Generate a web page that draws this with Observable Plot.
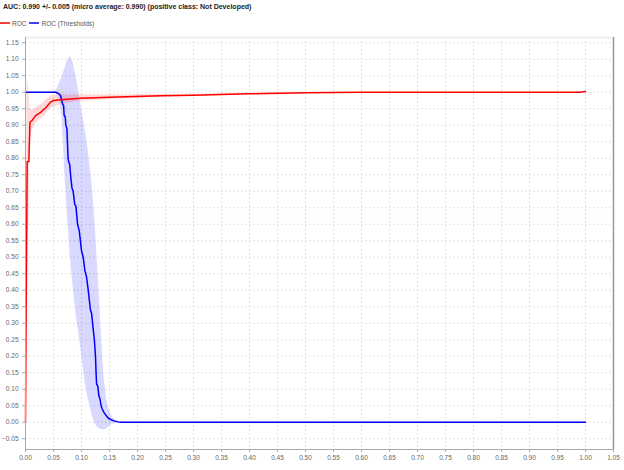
<!DOCTYPE html>
<html>
<head>
<meta charset="utf-8">
<script src="https://cdn.jsdelivr.net/npm/d3@7"></script>
<script src="https://cdn.jsdelivr.net/npm/@observablehq/plot@0.6"></script>
<style>
  html, body { margin: 0; padding: 0; background: #fff; }
  body { width: 624px; height: 470px; overflow: hidden; font-family: "Liberation Sans", Arial, sans-serif; }
  #title { height: 14px; line-height: 13px; padding-left: 3px; font-size: 7px; font-weight: bold; color: #222; white-space: nowrap; }
  #legend { height: 18px; display: flex; align-items: center; font-size: 6.5px; color: #555; white-space: nowrap; }
  #legend .item { display: flex; align-items: center; margin-right: 3px; }
  #legend svg { margin-right: 2px; }
  #chart svg { display: block; }
</style>
</head>
<body>
<div id="title"></div>
<div id="legend"></div>
<div id="chart"></div>
<script>
// ---- Text ----
const titleText = "AUC: 0.990 +/- 0.005 (micro average: 0.990) (positive class: Not Developed)";
const seriesNames = ["ROC", "ROC (Thresholds)"];
const seriesColors = ["#ff0000", "#0000ff"];

// ---- Axes ----
const xDomain = [0, 1.05];
const yDomain = [-0.0827, 1.1658];
const xTicks = [0,0.05,0.1,0.15,0.2,0.25,0.3,0.35,0.4,0.45,0.5,0.55,0.6,0.65,0.7,0.75,0.8,0.85,0.9,0.95,1.0,1.05];
const yTicks = [-0.05,0,0.05,0.1,0.15,0.2,0.25,0.3,0.35,0.4,0.45,0.5,0.55,0.6,0.65,0.7,0.75,0.8,0.85,0.9,0.95,1.0,1.05,1.1,1.15];

// ---- ROC (red) ----
const rocX  = [0, 0.001, 0.003, 0.006, 0.008, 0.012, 0.018, 0.027, 0.036, 0.045, 0.05, 0.0625, 0.098, 0.15, 0.241, 0.3, 0.4, 0.5, 0.6, 0.99, 1.0];
const rocY  = [0, 0.3, 0.79, 0.79, 0.909, 0.915, 0.929, 0.939, 0.953, 0.970, 0.975, 0.977, 0.982, 0.985, 0.989, 0.991, 0.995, 0.998, 1.0, 1.0, 1.002];
const rocLo = [0, 0.15, 0.55, 0.6, 0.86, 0.885, 0.905, 0.918, 0.932, 0.95, 0.955, 0.962, 0.972, 0.978, 0.985, 0.988, 0.993, 0.997, 1.0, 1.0, 1.0];
const rocHi = [0, 0.5, 1.05, 1.0, 0.95, 0.945, 0.952, 0.962, 0.975, 0.988, 0.99, 0.992, 0.992, 0.992, 0.993, 0.994, 0.997, 0.999, 1.0, 1.0, 1.004];

// ---- ROC (Thresholds) (blue) ----
const thrX = [0, 0.054, 0.06, 0.0625, 0.065, 0.066, 0.068, 0.069, 0.071, 0.072, 0.074, 0.076, 0.077, 0.079, 0.081, 0.083, 0.085, 0.088, 0.09, 0.093, 0.096, 0.1, 0.103, 0.106, 0.109, 0.112, 0.114, 0.116, 0.118, 0.121, 0.123, 0.125, 0.126, 0.127, 0.129, 0.131, 0.133, 0.135, 0.137, 0.14, 0.144, 0.148, 0.152, 0.158, 0.165, 0.17, 1.0];
const thrY = [1, 1, 0.995, 0.99, 0.975, 0.965, 0.96, 0.93, 0.925, 0.90, 0.89, 0.80, 0.79, 0.78, 0.74, 0.71, 0.70, 0.66, 0.655, 0.60, 0.58, 0.52, 0.50, 0.46, 0.44, 0.40, 0.37, 0.34, 0.33, 0.28, 0.25, 0.20, 0.15, 0.115, 0.11, 0.08, 0.07, 0.05, 0.04, 0.03, 0.02, 0.012, 0.008, 0.004, 0.001, 0, 0];

const bandX  = [0, 0.05, 0.055, 0.06, 0.065, 0.07, 0.075, 0.08, 0.085, 0.09, 0.095, 0.1, 0.105, 0.11, 0.115, 0.12, 0.125, 0.13, 0.135, 0.14, 0.145, 0.15, 0.155, 0.16, 0.17, 1.0];
const bandHi = [1.0, 1.0, 1.005, 1.025, 1.045, 1.07, 1.095, 1.108, 1.09, 1.05, 1.0, 0.95, 0.9, 0.85, 0.78, 0.70, 0.58, 0.44, 0.28, 0.14, 0.07, 0.035, 0.015, 0.006, 0.001, 0.001];
const bandLo = [1.0, 1.0, 0.995, 0.985, 0.93, 0.76, 0.62, 0.50, 0.41, 0.33, 0.27, 0.21, 0.14, 0.085, 0.05, 0.015, -0.008, -0.018, -0.022, -0.024, -0.02, -0.012, -0.007, -0.003, -0.001, -0.001];

// ---- Build tables ----
const roc = rocX.map((x, i) => ({x, y: rocY[i], lo: rocLo[i], hi: rocHi[i]}));
const thr = thrX.map((x, i) => ({x, y: thrY[i]}));
const band = bandX.map((x, i) => ({x, lo: bandLo[i], hi: bandHi[i]}));

document.getElementById("title").textContent = titleText;
const legend = document.getElementById("legend");
seriesNames.forEach((name, i) => {
  const item = document.createElement("span");
  item.className = "item";
  item.innerHTML = `<svg width="10" height="4"><line x1="0" x2="10" y1="2" y2="2" stroke="${seriesColors[i]}" stroke-width="1.5"/></svg><span>${name}</span>`;
  legend.appendChild(item);
});

const fmt = d3.format(".2f");

const chart = Plot.plot({
  width: 624,
  height: 438,
  marginLeft: 25,
  marginRight: 11,
  marginTop: 5,
  marginBottom: 21,
  style: { fontFamily: "Liberation Sans, Arial, sans-serif", fontSize: "6.5px", color: "#666", background: "#fff" },
  x: { domain: xDomain, range: [25, 613] },
  y: { domain: yDomain },
  marks: [
    Plot.gridX(xTicks, { stroke: "#e2e2e2", strokeOpacity: 1, strokeDasharray: "2,2" }),
    Plot.gridY(yTicks, { stroke: "#e2e2e2", strokeOpacity: 1, strokeDasharray: "2,2" }),
    Plot.ruleY([yDomain[1]], { stroke: "#eeeeee", strokeWidth: 2 }),
    Plot.areaY(band, { x: "x", y1: "lo", y2: "hi", fill: seriesColors[1], fillOpacity: 0.15 }),
    Plot.areaY(roc, { x: "x", y1: "lo", y2: "hi", fill: seriesColors[0], fillOpacity: 0.15 }),
    Plot.line(thr, { x: "x", y: "y", stroke: seriesColors[1], strokeWidth: 1.5 }),
    Plot.line(roc, { x: "x", y: "y", stroke: seriesColors[0], strokeWidth: 1.5 }),
    Plot.ruleX([xDomain[0]], { stroke: "#aaaaaa", strokeWidth: 1 }),
    Plot.ruleY([yDomain[0]], { stroke: "#aaaaaa", strokeWidth: 1 }),
    Plot.ruleX([xDomain[1]], { stroke: "#999999", strokeWidth: 1.5 }),
    Plot.axisX({ ticks: xTicks, tickFormat: fmt, tickSize: 3, tickPadding: 3, stroke: "#aaa", fill: "#666", label: null }),
    Plot.axisY({ ticks: yTicks, tickFormat: fmt, tickSize: 3, tickPadding: 4, stroke: "#aaa", fill: "#666", label: null })
  ]
});
document.getElementById("chart").appendChild(chart);
</script>
</body>
</html>
